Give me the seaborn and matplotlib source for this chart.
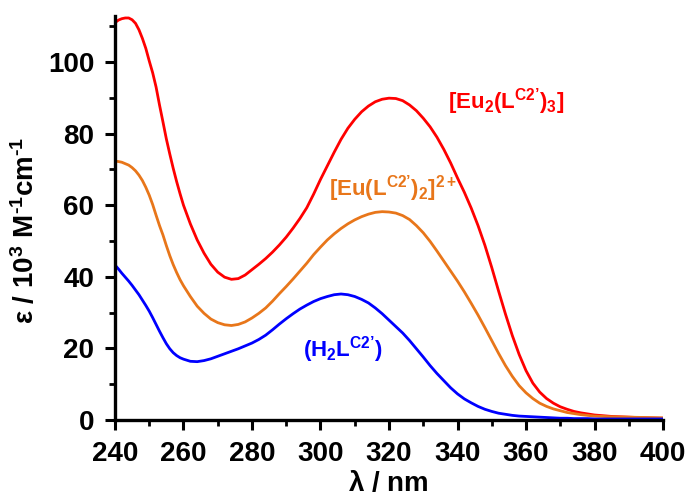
import matplotlib
matplotlib.use("Agg")
import matplotlib.pyplot as plt
import seaborn as sns
import pandas as pd
from matplotlib.ticker import MultipleLocator

wavelength = list(range(240, 261, 1)) + list(range(262, 381, 2)) + [385, 390, 395, 400]

eu2l3 = [111.0, 111.7, 112.1, 112.3, 112.3, 111.8, 110.8, 109.0, 106.6, 103.8, 100.3,
         97.0, 93.0, 88.0, 83.3, 78.5, 74.3, 70.3, 66.6, 63.2, 60.0,
         54.8, 50.3, 46.6, 43.5, 41.3, 39.9, 39.3, 39.5, 40.5, 42.0,
         43.5, 45.1, 46.9, 48.9, 51.1, 53.6, 56.3, 59.3, 63.1, 67.2,
         71.0, 74.8, 78.4, 81.5, 84.0, 86.1, 87.7, 88.9, 89.6, 89.9,
         89.8, 89.2, 88.0, 86.4, 84.3, 81.9, 79.0, 75.6, 71.8, 67.6,
         63.6, 59.2, 54.3, 48.8, 42.6, 36.0, 29.6, 23.6, 18.3, 13.8,
         10.3, 7.8, 6.0, 4.7, 3.7, 3.0, 2.4, 2.0, 1.7, 1.4,
         1.0, 0.8, 0.6, 0.5]

eul2 = [72.3, 72.2, 72.0, 71.6, 71.2, 70.5, 69.6, 68.4, 66.9, 65.0, 62.8,
        60.2, 57.2, 54.3, 51.7, 48.7, 45.9, 43.4, 41.2, 39.2, 37.5,
        34.5, 31.8, 29.8, 28.2, 27.2, 26.6, 26.4, 26.7, 27.4, 28.5,
        29.8, 31.3, 33.2, 35.3, 37.3, 39.4, 41.6, 43.8, 46.2, 48.3,
        50.3, 52.0, 53.5, 54.8, 55.9, 56.8, 57.5, 58.0, 58.2, 58.1,
        57.8, 57.1, 56.0, 54.3, 52.3, 49.9, 47.2, 44.4, 41.6, 38.8,
        35.8, 32.6, 29.3, 25.8, 22.2, 18.6, 15.2, 12.2, 9.6, 7.6,
        6.0, 4.7, 3.8, 3.1, 2.6, 2.1, 1.8, 1.5, 1.3, 1.1,
        0.9, 0.8, 0.7, 0.6]

h2l = [43.3, 42.2, 41.0, 39.9, 38.8, 37.6, 36.3, 35.0, 33.5, 32.0, 30.4,
       28.6, 26.7, 24.8, 23.0, 21.3, 19.9, 18.8, 18.0, 17.4, 17.0,
       16.4, 16.3, 16.6, 17.1, 17.8, 18.5, 19.2, 19.9, 20.7, 21.5,
       22.5, 23.7, 25.2, 26.8, 28.3, 29.7, 31.0, 32.1, 33.1, 33.9,
       34.5, 35.0, 35.2, 35.0, 34.5, 33.7, 32.7, 31.3, 29.7, 27.9,
       26.1, 24.3, 22.2, 19.9, 17.6, 15.2, 13.0, 11.0, 9.0, 7.3,
       5.9, 4.8, 3.8, 3.0, 2.4, 1.9, 1.6, 1.3, 1.1, 1.0,
       0.9, 0.8, 0.7, 0.6, 0.5, 0.5, 0.4, 0.4, 0.4, 0.3,
       0.3, 0.3, 0.3, 0.3]

series_names = ["Eu2L3", "EuL2", "H2L"]
series_colors = ["#ff0000", "#e8761a", "#0000ff"]
label_texts = [r"[Eu$_{2}$(L$^{\mathrm{C2’}}$)$_{3}$]",
               r"[Eu(L$^{\mathrm{C2’}}$)$_{2}$]$^{2+}$",
               r"(H$_{2}$L$^{\mathrm{C2’}}$)"]

sns.set_style("ticks")
plt.rcParams["font.family"] = ["Liberation Sans", "DejaVu Sans"]
plt.rcParams["font.weight"] = "bold"
plt.rcParams["text.color"] = "black"
plt.rcParams["axes.labelcolor"] = "black"
plt.rcParams["xtick.color"] = "black"
plt.rcParams["ytick.color"] = "black"
plt.rcParams["mathtext.fontset"] = "custom"
plt.rcParams["mathtext.rm"] = "Liberation Sans:bold"
plt.rcParams["mathtext.bf"] = "Liberation Sans:bold"
plt.rcParams["mathtext.it"] = "Liberation Sans:italic:bold"
plt.rcParams["mathtext.default"] = "rm"

frames = []
for name, vals in zip(series_names, [eu2l3, eul2, h2l]):
    frames.append(pd.DataFrame({"wl": wavelength, "eps": vals, "series": name}))
df = pd.concat(frames, ignore_index=True)

fig = plt.figure(figsize=(6.91, 4.97), dpi=100)
ax = fig.add_axes([0.1664, 0.1549, 0.7931, 0.8129])

sns.lineplot(data=df, x="wl", y="eps", hue="series", hue_order=series_names,
             palette=series_colors, linewidth=2.0, legend=False, ax=ax, sort=False)
for ln in ax.get_lines():
    ln.set_solid_joinstyle("round")
    ln.set_solid_capstyle("round")

ax.set_xlim(240, 400)
ax.set_ylim(0, 112.85)
ax.xaxis.set_major_locator(MultipleLocator(20))
ax.xaxis.set_minor_locator(MultipleLocator(10))
ax.yaxis.set_major_locator(MultipleLocator(20))
ax.yaxis.set_minor_locator(MultipleLocator(10))

for side in ["top", "right"]:
    ax.spines[side].set_visible(False)
for side in ["left", "bottom"]:
    ax.spines[side].set_linewidth(2.4)
    ax.spines[side].set_color("black")

ax.tick_params(axis="both", which="major", direction="out", length=7, width=2.2,
               labelsize=20, color="black", labelcolor="black")
ax.tick_params(axis="x", which="major", pad=8)
ax.tick_params(axis="y", which="major", pad=8)
ax.tick_params(axis="both", which="minor", direction="out", length=4.5, width=2.0, color="black")
for lab in ax.get_xticklabels() + ax.get_yticklabels():
    lab.set_fontweight("bold")

ax.set_xlabel(r"$\lambda$ / nm", fontsize=20, fontweight="bold", color="black")
ax.set_ylabel("ε / 10$^{3}$ M$^{\u20101}$cm$^{\u20101}$", fontsize=20, fontweight="bold",
              color="black")
ax.xaxis.set_label_coords(0.498, -0.158)
ax.yaxis.set_label_coords(-0.164, 0.47)
ax.xaxis.label.set_va("center")
ax.yaxis.label.set_va("center")

text_positions = [(506, 102), (393, 189), (343, 350)]
for (px, py), txt, col in zip(text_positions, label_texts, series_colors):
    fig.text(px / 691, 1 - py / 497, txt, color=col, fontsize=16, fontweight="bold",
             ha="center", va="center")

fig.savefig("out.png", dpi=100)
